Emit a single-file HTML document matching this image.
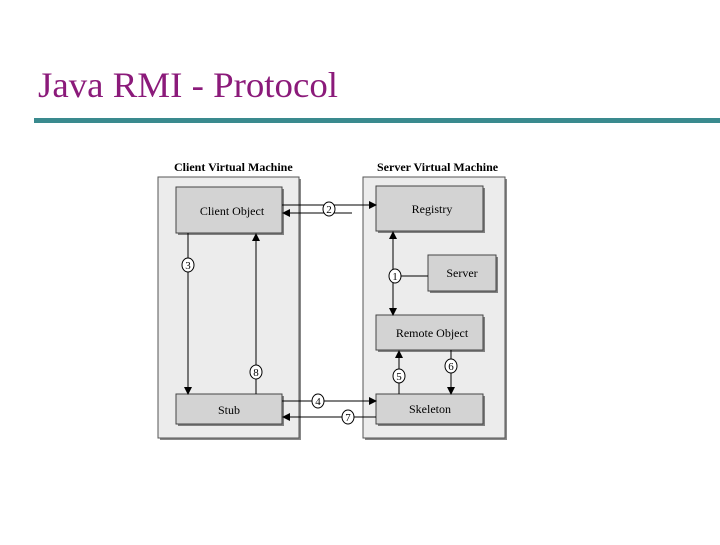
<!DOCTYPE html>
<html><head><style>
body{margin:0;background:#fff;}
</style></head><body>
<svg width="720" height="540" xmlns="http://www.w3.org/2000/svg" font-family="Liberation Serif, serif">
<defs>
<marker id="a" markerWidth="8" markerHeight="8" refX="7" refY="4" orient="auto" markerUnits="userSpaceOnUse">
<path d="M0,0 L8,4 L0,8 z" fill="#000"/></marker>
</defs>
<rect width="720" height="540" fill="#fff"/>
<text x="38" y="97" font-size="36" fill="#8b1a7a" textLength="300" lengthAdjust="spacingAndGlyphs">Java RMI - Protocol</text>
<rect x="34" y="118" width="686" height="5" fill="#3a8a8e"/>
<text x="174" y="171" font-size="12" font-weight="bold">Client Virtual Machine</text>
<text x="377" y="171" font-size="12" font-weight="bold">Server Virtual Machine</text>
<rect x="160" y="179" width="141" height="261" fill="#888"/>
<rect x="158" y="177" width="141" height="261" fill="#ececec" stroke="#555" stroke-width="1"/>
<rect x="365" y="179" width="142" height="261" fill="#888"/>
<rect x="363" y="177" width="142" height="261" fill="#ececec" stroke="#555" stroke-width="1"/>
<g fill="#808080">
<rect x="178" y="189" width="106" height="46"/>
<rect x="378" y="188" width="107" height="45"/>
<rect x="430" y="257" width="68" height="36"/>
<rect x="378" y="317" width="107" height="35"/>
<rect x="178" y="396" width="106" height="30"/>
<rect x="378" y="396" width="107" height="30"/>
</g>
<g fill="#d3d3d3" stroke="#444">
<rect x="176" y="187" width="106" height="46"/>
<rect x="376" y="186" width="107" height="45"/>
<rect x="428" y="255" width="68" height="36"/>
<rect x="376" y="315" width="107" height="35"/>
<rect x="176" y="394" width="106" height="30"/>
<rect x="376" y="394" width="107" height="30"/>
</g>
<g font-size="12" text-anchor="middle">
<text x="232" y="215">Client Object</text>
<text x="432" y="213">Registry</text>
<text x="462" y="277">Server</text>
<text x="432" y="337">Remote Object</text>
<text x="229" y="414">Stub</text>
<text x="430" y="413">Skeleton</text>
</g>
<g stroke="#000" stroke-width="1" fill="none">
<line x1="282" y1="205" x2="376" y2="205" marker-end="url(#a)"/>
<line x1="352" y1="213" x2="283" y2="213" marker-end="url(#a)"/>
<line x1="188" y1="233" x2="188" y2="394" marker-end="url(#a)"/>
<line x1="256" y1="394" x2="256" y2="234" marker-end="url(#a)"/>
<line x1="393" y1="276" x2="393" y2="232" marker-end="url(#a)"/>
<line x1="393" y1="276" x2="393" y2="315" marker-end="url(#a)"/>
<line x1="393" y1="276" x2="428" y2="276"/>
<line x1="399" y1="394" x2="399" y2="351" marker-end="url(#a)"/>
<line x1="451" y1="350" x2="451" y2="394" marker-end="url(#a)"/>
<line x1="282" y1="401" x2="376" y2="401" marker-end="url(#a)"/>
<line x1="376" y1="417" x2="283" y2="417" marker-end="url(#a)"/>
</g>
<g fill="#fff" stroke="#000">
<ellipse cx="329" cy="209" rx="6" ry="7"/>
<ellipse cx="188" cy="265" rx="6" ry="7"/>
<ellipse cx="256" cy="372" rx="6" ry="7"/>
<ellipse cx="395" cy="276" rx="6" ry="7"/>
<ellipse cx="399" cy="376" rx="6" ry="7"/>
<ellipse cx="451" cy="366" rx="6" ry="7"/>
<ellipse cx="318" cy="401" rx="6" ry="7"/>
<ellipse cx="348" cy="417" rx="6" ry="7"/>
</g>
<g font-size="11" text-anchor="middle">
<text x="329" y="213">2</text>
<text x="188" y="269">3</text>
<text x="256" y="376">8</text>
<text x="395" y="280">1</text>
<text x="399" y="380">5</text>
<text x="451" y="370">6</text>
<text x="318" y="405">4</text>
<text x="348" y="421">7</text>
</g>
</svg>
</body></html>
